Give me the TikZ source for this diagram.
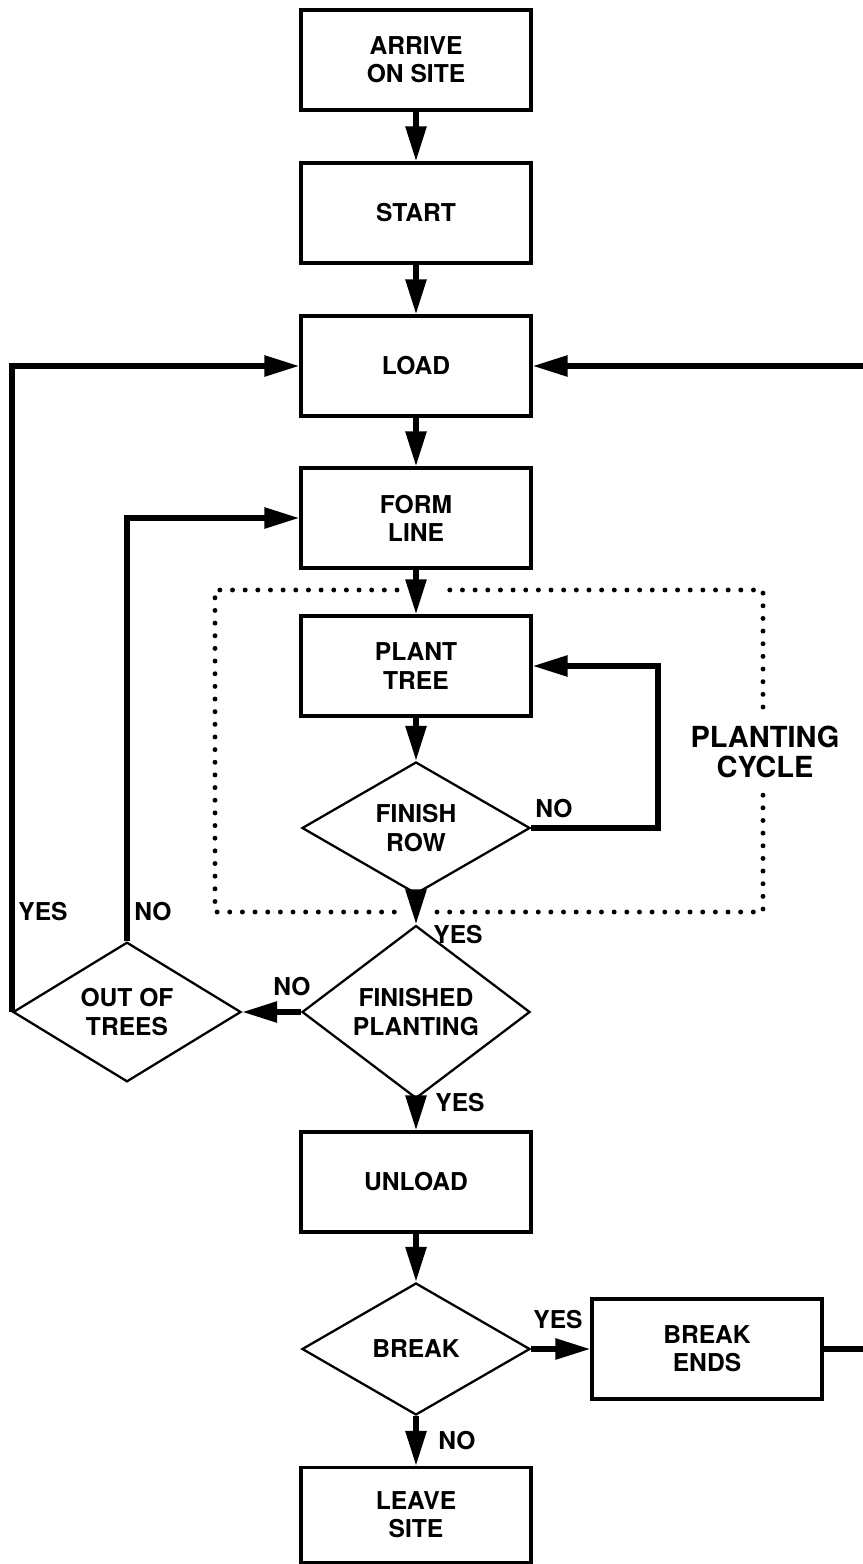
\documentclass[tikz,border=0pt]{standalone}
\usepackage{fontspec}
\setmainfont{TeX Gyre Heros}
\usetikzlibrary{arrows.meta, shapes.geometric}
\newcommand{\chartfont}{\fontsize{14}{16}\selectfont\bfseries}
\newcommand{\cyclefont}{\fontsize{16.5}{17.5}\selectfont\bfseries}
\tikzset{
  stepbox/.style={draw, line width=1.8pt, minimum width=4.6cm, minimum height=2cm,
    align=center, font=\chartfont},
  query/.style={draw, diamond, line width=1.3pt, minimum width=4.56cm,
    minimum height=2.64cm, inner sep=0pt, align=center, font=\chartfont},
  flow/.style={line width=3.2pt, -{Triangle[length=7mm, width=4mm]}},
  bare/.style={line width=3.2pt},
  tag/.style={font=\chartfont, inner sep=0pt},
  cycleline/.style={line width=2.8pt, line cap=round, dash pattern=on 0pt off 7.2pt}
}

\begin{document}
\begin{tikzpicture}[x={(0.2mm,0)}, y={(0,-0.2mm)}]
  \useasboundingbox (0,0) rectangle (863,1564);
  % main column
  \node[stepbox] (arrive) at (416,60) {ARRIVE\\ON SITE};
  \node[stepbox] (start) at (416,213) {START};
  \node[stepbox] (load) at (416,366) {LOAD};
  \node[stepbox] (form) at (416,518) {FORM\\LINE};
  \node[stepbox] (plant) at (416,666) {PLANT\\TREE};
  \node[query] (finrow) at (416,828) {FINISH\\ROW};
  \node[query] (finplant) at (416,1012) {FINISHED\\PLANTING};
  \node[query] (outtrees) at (127,1012) {OUT OF\\TREES};
  \node[stepbox] (unload) at (416,1182) {UNLOAD};
  \node[query] (break) at (416,1349) {BREAK};
  \node[stepbox] (breakend) at (707,1349) {BREAK\\ENDS};
  \node[stepbox, minimum height=1.9cm] (leave) at (416,1515) {LEAVE\\SITE};
  \coordinate (rowloop) at (658,828);
  \coordinate (loadin) at (863,366);
  \coordinate (breakout) at (863,1349);

  % planting cycle frame
  \draw[cycleline] (397,590) -- (215,590) -- (215,912) -- (396,912);
  \draw[cycleline] (437,912) -- (763,912) -- (763,795);
  \draw[cycleline] (763,707) -- (763,590) -- (439,590);
  \node[tag, font=\cyclefont, align=center] (cycle) at (765,752) {PLANTING\\CYCLE};

  % connectors
  \draw[flow] (arrive) -- (start);
  \draw[flow] (start) -- (load);
  \draw[flow] (load) -- (form);
  \draw[flow] (form) -- (plant);
  \draw[flow] (plant) -- (finrow);
  \draw[flow] (finrow) -- (finplant);
  \draw[flow] (finrow.east) -- (rowloop) |- (plant.east);
  \draw[flow] (finplant.west) -- (outtrees.east);
  \draw[flow] (outtrees.west) |- (load.west);
  \draw[flow] (outtrees.north) |- (form.west);
  \draw[flow] (loadin) -- (load.east);
  \draw[flow] (finplant) -- (unload);
  \draw[flow] (unload) -- (break);
  \draw[flow] (break.east) -- (breakend.west);
  \draw[flow] (break) -- (leave);
  \draw[bare] (breakend.east) -- (breakout);

  % answers
  \node[tag] (rowno) at (554,809) {NO};
  \node[tag] (rowyes) at (458,935) {YES};
  \node[tag] (plantno) at (292,987) {NO};
  \node[tag] (plantyes) at (460,1103) {YES};
  \node[tag] (treesyes) at (43,912) {YES};
  \node[tag] (treesno) at (153,912) {NO};
  \node[tag] (breakyes) at (558,1320) {YES};
  \node[tag] (breakno) at (457,1441) {NO};
\end{tikzpicture}
\end{document}
